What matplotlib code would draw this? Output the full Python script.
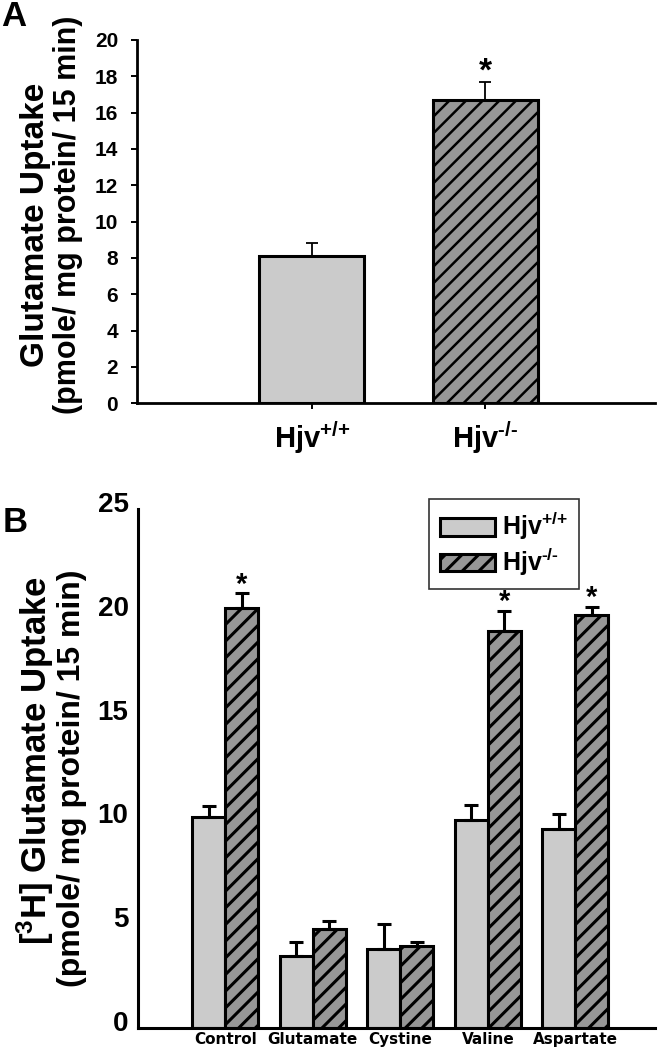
import numpy as np
import matplotlib
matplotlib.use("Agg")
import matplotlib.pyplot as plt
from matplotlib.patches import Patch
from matplotlib.transforms import ScaledTranslation

plt.rcParams['font.family'] = ['Liberation Sans', 'DejaVu Sans']
plt.rcParams['font.weight'] = 'bold'
plt.rcParams['mathtext.fontset'] = 'custom'
plt.rcParams['mathtext.rm'] = 'Liberation Sans:bold'
plt.rcParams['mathtext.it'] = 'Liberation Sans:bold'
plt.rcParams['mathtext.bf'] = 'Liberation Sans:bold'
plt.rcParams['mathtext.sf'] = 'Liberation Sans:bold'
plt.rcParams['hatch.linewidth'] = 1.8

# ---------------- data ----------------
genotypes = [r'Hjv$^{\text{+/+}}$', r'Hjv$^{\text{-/-}}$']
uptake_A = [8.1, 16.7]
uptake_A_err = [0.7, 1.0]
signif_A = [False, True]

treatments = ['Control', 'Glutamate', 'Cystine', 'Valine', 'Aspartate']
wt_B = [10.15, 3.45, 3.8, 10.0, 9.6]
wt_B_err = [0.55, 0.7, 1.2, 0.75, 0.7]
ko_B = [20.25, 4.75, 3.95, 19.1, 19.9]
ko_B_err = [0.7, 0.4, 0.2, 1.0, 0.4]
signif_B = [True, False, False, True, True]

yticks_A = [0, 2, 4, 6, 8, 10, 12, 14, 16, 18, 20]
yticks_B = [0, 5, 10, 15, 20, 25]

WT_COLOR = '#cbcbcb'
KO_COLOR = '#979797'

W, H = 665, 1050
fig = plt.figure(figsize=(W / 100, H / 100), dpi=100)


def px_axes(l, t, r, b):
    return fig.add_axes([l / W, 1 - b / H, (r - l) / W, (b - t) / H])


# ---------------- panel A ----------------
axA = px_axes(136.7, 40, 655, 403.3)
xA = np.arange(len(genotypes))
axA.bar(xA, uptake_A, width=0.606, color=[WT_COLOR, KO_COLOR],
        edgecolor='black', linewidth=2.2, hatch=['', '//'], zorder=2)
axA.errorbar(xA, uptake_A, yerr=[np.zeros(len(xA)), uptake_A_err], fmt='none',
             ecolor='black', elinewidth=1.3, capsize=4.3, capthick=1.3, zorder=3)
for xi, v, e, s in zip(xA, uptake_A, uptake_A_err, signif_A):
    if s:
        axA.annotate('*', xy=(xi, v + e), xytext=(0, -4), textcoords='offset points',
                     ha='center', va='bottom', fontsize=24, fontweight='bold')
axA.set_xlim(-1.01, 1.98)
axA.set_ylim(0, 20)
axA.set_yticks(yticks_A)
axA.set_yticklabels([str(t) for t in yticks_A], fontsize=15, fontweight='bold')
axA.set_xticks(xA)
axA.set_xticklabels(genotypes, fontsize=21, fontweight='bold')
for side in ['top', 'right']:
    axA.spines[side].set_visible(False)
for side in ['left', 'bottom']:
    axA.spines[side].set_linewidth(2.0)
axA.tick_params(axis='y', direction='out', length=4.3, width=1.4, pad=9)
axA.tick_params(axis='x', direction='out', length=4.3, width=1.4, pad=7)

fig.text(36 / W, 1 - 225 / H, 'Glutamate Uptake', rotation=90, fontsize=24,
         fontweight='bold', ha='center', va='center', rotation_mode='anchor')
fig.text(68 / W, 1 - 215 / H, '(pmole/ mg protein/ 15 min)', rotation=90, fontsize=22,
         fontweight='bold', ha='center', va='center', rotation_mode='anchor')
fig.text(14 / W, 1 - 16 / H, 'A', fontsize=25, fontweight='bold', ha='center', va='center')

# ---------------- panel B ----------------
plt.rcParams['hatch.linewidth'] = 2.2
axB = px_axes(138.3, 509, 655, 1028)
xB = np.arange(len(treatments))
bw = 0.377
axB.bar(xB - bw / 2, wt_B, width=bw, color=WT_COLOR, edgecolor='black',
        linewidth=2.2, zorder=2)
axB.bar(xB + bw / 2, ko_B, width=bw, color=KO_COLOR, edgecolor='black',
        linewidth=2.2, hatch='//', zorder=2)
axB.errorbar(xB - bw / 2, wt_B, yerr=[np.zeros(len(xB)), wt_B_err], fmt='none',
             ecolor='black', elinewidth=2.2, capsize=4.7, capthick=2.2, zorder=3)
axB.errorbar(xB + bw / 2, ko_B, yerr=[np.zeros(len(xB)), ko_B_err], fmt='none',
             ecolor='black', elinewidth=2.2, capsize=4.7, capthick=2.2, zorder=3)
for xi, v, e, s in zip(xB, ko_B, ko_B_err, signif_B):
    if s:
        axB.annotate('*', xy=(xi + bw / 2, v + e), xytext=(0, -4), textcoords='offset points',
                     ha='center', va='bottom', fontsize=21, fontweight='bold')
axB.set_xlim(-0.994, 4.91)
axB.set_ylim(0, 25)
axB.set_yticks(yticks_B)
axB.set_yticklabels([str(t) for t in yticks_B], fontsize=20, fontweight='bold')
axB.set_xticks(xB)
axB.set_xticklabels(treatments, fontsize=11, fontweight='bold', family='DejaVu Sans')
for side in ['top', 'right']:
    axB.spines[side].set_visible(False)
for side in ['left', 'bottom']:
    axB.spines[side].set_linewidth(2.2)
axB.tick_params(axis='y', length=0, pad=7)
axB.tick_params(axis='x', length=0, pad=3)
shift = ScaledTranslation(0, 7 / 100, fig.dpi_scale_trans)
for lab in axB.get_yticklabels():
    lab.set_transform(lab.get_transform() + shift)

handles = [Patch(facecolor=WT_COLOR, edgecolor='black', linewidth=2.2, label=genotypes[0]),
           Patch(facecolor=KO_COLOR, edgecolor='black', linewidth=2.2, hatch='//', label=genotypes[1])]
leg = fig.legend(handles=handles, loc='upper left', bbox_to_anchor=(429 / W, 1 - 499 / H),
                 bbox_transform=fig.transFigure, fontsize=18, frameon=True, fancybox=False,
                 handlelength=2.2, handleheight=0.72, handletextpad=0.26, labelspacing=0.15,
                 borderpad=0.45, borderaxespad=0)
leg.get_frame().set_edgecolor('black')
leg.get_frame().set_linewidth(1.2)

fig.text(35 / W, 1 - 761 / H, r'[$^{3}$H] Glutamate Uptake', rotation=90, fontsize=25,
         fontweight='bold', ha='center', va='center', rotation_mode='anchor')
fig.text(72 / W, 1 - 778 / H, '(pmole/ mg protein/ 15 min)', rotation=90, fontsize=23,
         fontweight='bold', ha='center', va='center', rotation_mode='anchor')
fig.text(15 / W, 1 - 522 / H, 'B', fontsize=25, fontweight='bold', ha='center', va='center')

fig.savefig('out.png', dpi=100)
